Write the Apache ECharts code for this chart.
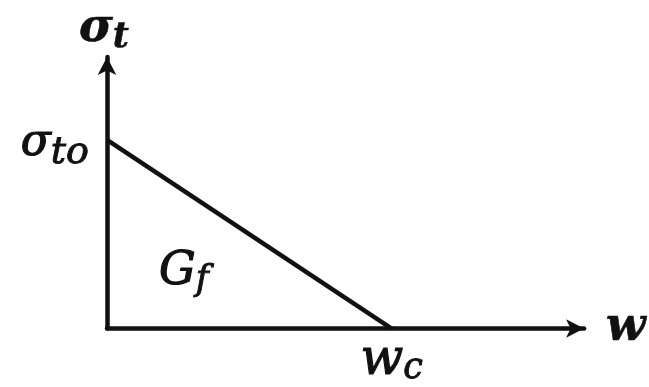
<!DOCTYPE html>
<html>
<head>
<meta charset="utf-8">
<script src="https://cdn.jsdelivr.net/npm/echarts@6/dist/echarts.min.js"></script>
<style>
  html, body { margin: 0; padding: 0; background: #fff; }
  #chart { width: 649px; height: 387px; }
</style>
</head>
<body>
<div id="chart"></div>
<script>
// Linear tension-softening law: stress drops from sigma_to at zero opening to zero at w_c
var crackOpening = [0, 1];          // w (normalised so that w_c = 1)
var tensileStress = [1, 0];         // sigma_t (normalised so that sigma_to = 1)
var xTickValues = [1];              // only the critical opening is labelled
var yTickValues = [1];              // only the tensile strength is labelled
var energyLabelPos = [0.27, 0.30];  // where the fracture-energy label sits inside the triangle

var serif = '"DejaVu Serif", "Liberation Serif", serif';
var ink = '#111';

// Italic symbol with a dropped subscript, built from two rich-text tokens
function mathRich(mainSize, subSize, drop, bold) {
  var weight = bold ? 'bold' : 'normal';
  var stroke = bold ? 0.6 : 1.2;
  return {
    m: { fontFamily: serif, fontStyle: 'italic', fontWeight: weight, fontSize: mainSize,
         color: ink, textBorderColor: ink, textBorderWidth: stroke,
         lineHeight: mainSize + 10, verticalAlign: 'middle' },
    s: { fontFamily: serif, fontStyle: 'italic', fontWeight: weight, fontSize: subSize,
         color: ink, textBorderColor: ink, textBorderWidth: stroke * 0.8,
         lineHeight: mainSize + 10, padding: [drop, 0, 0, 0], verticalAlign: 'middle' }
  };
}

var chart = echarts.init(document.getElementById('chart'), null, { renderer: 'canvas' });

var lineData = crackOpening.map(function (w, i) { return [w, tensileStress[i]]; });

chart.setOption({
  animation: false,
  backgroundColor: '#fff',
  grid: { left: 107, right: 61, top: 57, bottom: 55, containLabel: false },
  xAxis: {
    type: 'value', min: 0, max: 1.676,
    name: '{m|w}',
    nameLocation: 'end',
    nameGap: 22,
    nameTextStyle: { rich: mathRich(46, 34, 0, true) },
    axisLine: { show: true, onZero: false, lineStyle: { color: ink, width: 4.5 },
                symbol: ['none', 'arrow'], symbolSize: [14, 18] },
    axisTick: { show: false },
    splitLine: { show: false },
    axisLabel: {
      show: true, customValues: xTickValues, margin: 2,
      formatter: function () { return '{m|w}{s|c}'; },
      rich: mathRich(50, 35, 17, false)
    }
  },
  yAxis: {
    type: 'value', min: 0, max: 1.44,
    name: '{m|σ}{s|t}',
    nameLocation: 'end',
    nameGap: 0,
    nameTextStyle: { rich: mathRich(46, 35, 18, true), align: 'center', padding: [0, 6, 0, 0] },
    axisLine: { show: true, onZero: false, lineStyle: { color: ink, width: 4.5 },
                symbol: ['none', 'arrow'], symbolSize: [14, 18] },
    axisTick: { show: false },
    splitLine: { show: false },
    axisLabel: {
      show: true, customValues: yTickValues, margin: 18,
      padding: [7, 0, 0, 0],
      formatter: function () { return '{m|σ}{s|to}'; },
      rich: mathRich(44, 38, 20, false)
    }
  },
  series: [
    {
      type: 'line',
      data: lineData,
      symbol: 'none',
      lineStyle: { color: ink, width: 4.5 },
      z: 3
    },
    {
      type: 'scatter',
      data: [energyLabelPos],
      symbolSize: 0,
      itemStyle: { color: ink, opacity: 1 },
      emphasis: { disabled: true },
      label: {
        show: true, position: 'inside', color: ink, opacity: 1,
        formatter: '{m|G}{s|f}',
        rich: mathRich(46, 35, 18, false)
      },
      z: 4
    }
  ]
});
</script>
</body>
</html>
